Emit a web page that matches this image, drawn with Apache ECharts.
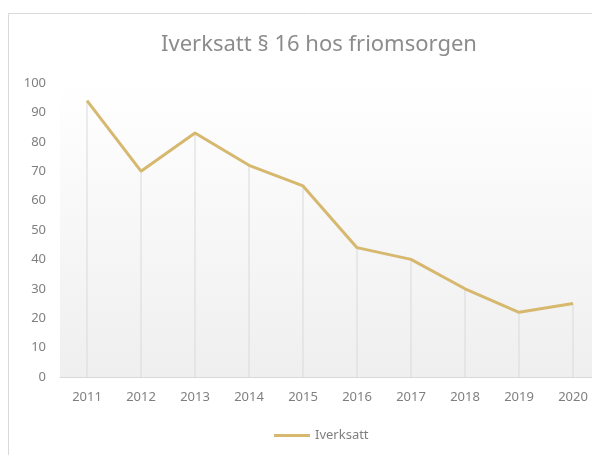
<!DOCTYPE html>
<html>
<head>
<meta charset="utf-8">
<script src="https://cdn.jsdelivr.net/npm/echarts@6/dist/echarts.min.js"></script>
<style>
  html, body { margin: 0; padding: 0; background: #fff; overflow: hidden; }
  #chart { width: 612px; height: 455px; }
</style>
</head>
<body>
<div id="chart"></div>
<script>
// data
const years = ['2011', '2012', '2013', '2014', '2015', '2016', '2017', '2018', '2019', '2020']
const iverksatt = [94, 70, 83, 72, 65, 44, 40, 30, 22, 25]

const lineColor = '#D6B86F'
const textColor = '#7f7f7f'

// the chart is a bit wider than the window: the reference is cropped on the right
const myChart = echarts.init(document.getElementById('chart'))
const option = {
  animation: false,
  textStyle: { fontFamily: 'Noto Sans' },
  graphic: [
    {
      type: 'rect',
      shape: { x: 8.5, y: 13.5, width: 600, height: 460 },
      style: { fill: 'none', stroke: '#d9d9d9', lineWidth: 1 },
      silent: true
    }
  ],
  title: {
    text: 'Iverksatt § 16 hos friomsorgen',
    left: 314,
    top: 29,
    textAlign: 'center',
    textStyle: { color: '#8c8c8c', fontSize: 22, fontWeight: 'normal', fontFamily: 'Noto Sans' }
  },
  legend: {
    bottom: 8,
    left: 269,
    data: ['Iverksatt'],
    itemWidth: 36,
    itemHeight: 3,
    icon: 'rect',
    textStyle: { color: textColor, fontSize: 13 }
  },
  grid: {
    left: 60,
    width: 540,
    top: 83,
    bottom: 78,
    show: true,
    borderWidth: 0,
    backgroundColor: new echarts.graphic.LinearGradient(0, 0, 0, 1, [
      { offset: 0, color: '#ffffff' },
      { offset: 1, color: '#efefef' }
    ])
  },
  xAxis: {
    type: 'category',
    data: years,
    boundaryGap: true,
    axisLine: { lineStyle: { color: '#d9d9d9', width: 1 } },
    axisTick: { show: false },
    axisLabel: { color: textColor, fontSize: 13, margin: 14 }
  },
  yAxis: {
    type: 'value',
    min: 0,
    max: 100,
    interval: 10,
    axisLine: { show: false },
    axisTick: { show: false },
    splitLine: { show: false },
    axisLabel: { color: textColor, fontSize: 13, margin: 14 }
  },
  series: [
    {
      // vertical drop lines from each point to the axis
      name: 'drop',
      type: 'bar',
      data: iverksatt,
      barWidth: 1,
      itemStyle: { color: '#d9d9d9' },
      silent: true,
      z: 1
    },
    {
      name: 'Iverksatt',
      type: 'line',
      data: iverksatt,
      showSymbol: false,
      lineStyle: { color: lineColor, width: 3 },
      itemStyle: { color: lineColor },
      z: 3
    }
  ]
}
option && myChart.setOption(option)
</script>
</body>
</html>
